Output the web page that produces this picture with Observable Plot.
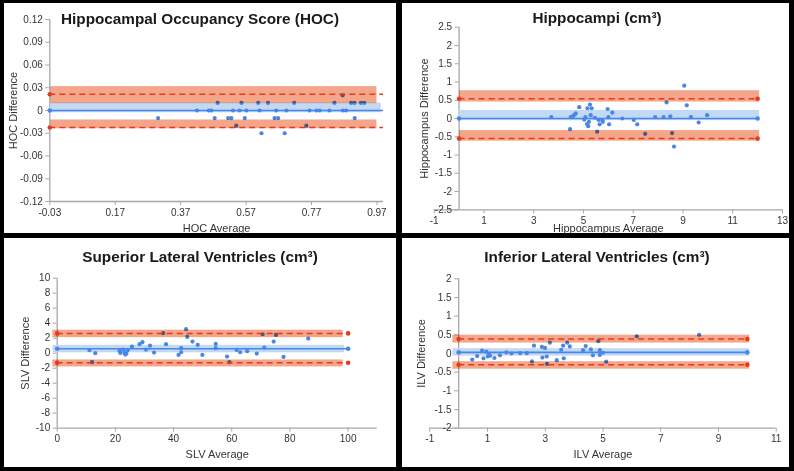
<!DOCTYPE html>
<html><head><meta charset="utf-8">
<script src="https://cdn.jsdelivr.net/npm/d3@7"></script>
<script src="https://cdn.jsdelivr.net/npm/@observablehq/plot@0.6"></script>
<style>
body{margin:0;background:#000;}
#wrap{position:relative;width:794px;height:471px;background:#000;overflow:hidden;}
.panel{position:absolute;background:#fff;overflow:hidden;}
.panel svg{position:absolute;left:0;top:0;}
.title{position:absolute;width:400px;text-align:center;font:bold 15.3px "Liberation Sans",Arial,sans-serif;color:#1a1a1a;white-space:nowrap;line-height:1;}
</style></head><body><div id="wrap"></div>
<script>
// ---------- Data ----------
// Hippocampal Occupancy Score (HOC)
const hocAvg  = [0.483,0.556,0.607,0.637,0.717,0.840,0.891,0.901,0.921,0.931,
                 0.420,0.456,0.464,0.530,0.550,0.571,0.611,0.662,0.693,0.764,0.785,0.795,0.825,0.866,0.876,
                 0.301,0.474,0.515,0.525,0.566,0.657,0.668,0.902,
                 0.540,0.754,0.617,0.688,0.865];
const hocDiff = [0.01,0.01,0.01,0.01,0.01,0.01,0.01,0.01,0.01,0.01,
                 0,0,0,0,0,0,0,0,0,0,0,0,0,0,0,
                 -0.01,-0.01,-0.01,-0.01,-0.01,-0.01,-0.01,-0.01,
                 -0.02,-0.02,-0.03,-0.03,0.02];
const hocStats = {mean: 0, upper: 0.0215, lower: -0.0225};
const hocBands = {upper: [0.009, 0.0315], lower: [-0.024, -0.0125], mean: [-0.003, 0.0097]};
const hocXTicks = [-0.03, 0.17, 0.37, 0.57, 0.77, 0.97];
const hocYTicks = [-0.12, -0.09, -0.06, -0.03, 0, 0.03, 0.06, 0.09, 0.12];

// Hippocampi (cm3)
const hippAvg  = [3.71,4.46,4.49,4.59,4.65,4.69,4.83,5.03,5.08,5.14,5.16,5.19,5.22,5.26,5.29,5.33,5.46,5.55,5.61,5.65,
                  5.76,5.78,5.97,6.00,6.03,6.16,6.56,7.02,7.16,7.48,7.88,8.22,8.34,8.49,8.56,8.64,9.05,9.15,9.32,9.63,9.97];
const hippDiff = [0.04,-0.29,0.04,0.07,0.11,0.14,0.31,-0.03,0.04,-0.15,0.28,-0.21,-0.09,0.38,0.09,0.28,0.02,-0.36,-0.04,-0.16,
                  -0.05,-0.09,0.26,0.04,-0.16,0.16,0.0,-0.04,-0.16,-0.42,0.04,0.04,0.44,0.06,-0.40,-0.77,0.90,0.36,0.04,-0.11,0.09];
const hippStats = {mean: 0, upper: 0.54, lower: -0.55};
const hippBands = {upper: [0.45, 0.76], lower: [-0.62, -0.33], mean: [-0.06, 0.22]};
const hippXTicks = [-1, 1, 3, 5, 7, 9, 11, 13];
const hippYTicks = [-2.5, -2, -1.5, -1, -0.5, 0, 0.5, 1, 1.5, 2, 2.5];

// Superior Lateral Ventricles (cm3)
const slvAvg  = [11.1,12.0,13.1,21.4,21.7,22.6,23.1,23.4,23.8,24.2,25.7,28.3,29.3,30.5,31.9,33.3,36.4,37.4,41.7,42.6,
                 42.6,44.3,44.7,46.5,48.3,49.9,54.5,54.5,58.4,59.2,61.7,62.9,65.3,68.6,70.6,71.2,74.4,75.2,77.8,86.3];
const slvDiff = [0.40,-1.2,0.0,0.31,0.04,0.48,0.04,-0.18,-0.05,0.40,0.88,1.2,1.47,0.48,1.01,0.08,2.67,1.2,-0.23,0.67,
                 0.13,3.2,2.17,1.55,1.1,-0.23,1.24,0.67,-0.45,-1.2,0.44,0.13,0.27,-0.05,2.53,0.75,1.55,2.44,-0.49,1.95];
const slvStats = {mean: 0.6, upper: 2.64, lower: -1.27};
const slvBands = {upper: [2.08, 3.07], lower: [-1.83, -0.9], mean: [0.05, 1.05]};
const slvXTicks = [0, 20, 40, 60, 80, 100];
const slvYTicks = [-10, -8, -6, -4, -2, 0, 2, 4, 6, 8, 10];

// Inferior Lateral Ventricles (cm3)
const ilvAvg  = [0.47,0.64,0.81,0.86,0.96,1.01,1.05,1.09,1.24,1.43,1.65,1.83,2.13,2.36,2.54,2.61,2.88,2.90,2.99,3.05,
                 3.06,3.16,3.40,3.55,3.62,3.64,3.76,3.85,4.31,4.40,4.58,4.65,4.84,4.89,4.89,5.00,5.11,6.17,8.33];
const ilvDiff = [-0.16,-0.07,0.08,-0.13,0.05,-0.08,-0.03,-0.06,-0.12,-0.05,0.03,0.0,0.01,0.01,-0.21,0.21,0.18,-0.11,0.15,-0.08,
                 -0.28,0.29,-0.18,0.10,0.21,-0.13,0.29,0.19,0.09,0.20,0.11,-0.05,0.33,0.09,-0.04,0.02,-0.22,0.46,0.50];
const ilvStats = {mean: 0.03, upper: 0.39, lower: -0.30};
const ilvBands = {upper: [0.28, 0.49], lower: [-0.42, -0.22], mean: [-0.07, 0.13]};
const ilvXTicks = [-1, 1, 3, 5, 7, 9, 11];
const ilvYTicks = [-2, -1.5, -1, -0.5, 0, 0.5, 1, 1.5, 2];

// ---------- Drawing ----------
const FONT = "'Liberation Sans', Arial, Helvetica, sans-serif";
const AXIS = "#a3a9a9";
const BLUE = "#4a86e8";
const RED = "#e63a1f";

function panel(o) {
  const pts = o.avg.map((x, i) => ({x, y: o.diff[i]}));
  const redBands = [
    {x1: o.bandX[0], x2: o.bandX[1], y1: o.bands.upper[0], y2: o.bands.upper[1]},
    {x1: o.bandX[0], x2: o.bandX[1], y1: o.bands.lower[0], y2: o.bands.lower[1]}
  ];
  const blueBand = [{x1: o.blueX[0], x2: o.blueX[1], y1: o.bands.mean[0], y2: o.bands.mean[1]}];
  const dashed = [
    {x1: o.lineX[0], x2: o.lineX[1], y: o.stats.upper},
    {x1: o.lineX[0], x2: o.lineX[1], y: o.stats.lower}
  ];
  const meanLine = [{x1: o.lineX[0], x2: o.lineX[1], y: o.stats.mean}];
  const redMarks = o.markX.flatMap(x => [{x, y: o.stats.upper}, {x, y: o.stats.lower}]);
  const blueMarks = o.markX.map(x => ({x, y: o.stats.mean}));
  const y0 = o.yDomain[0];
  const ax = o.yAxisX;

  const svg = Plot.plot({
    width: o.w, height: o.h,
    marginLeft: o.m[0], marginRight: o.m[1], marginTop: o.m[2], marginBottom: o.m[3],
    style: {fontFamily: FONT, fontSize: "10px", background: "transparent", overflow: "visible"},
    x: {domain: o.xDomain, axis: null},
    y: {domain: o.yDomain, axis: null},
    marks: [
      // axes
      Plot.ruleY([y0], {stroke: AXIS, strokeWidth: 1.3}),
      Plot.ruleX([ax], {stroke: AXIS, strokeWidth: 1.3}),
      Plot.ruleY(o.yTicks, {y: d => d, x1: () => ax, x2: () => ax, insetLeft: -4, stroke: AXIS}),
      Plot.ruleX(o.xTicks, {x: d => d, y1: () => y0, y2: () => y0, insetTop: 4, stroke: AXIS}),
      Plot.text(o.yTicks, {x: () => ax, y: d => d, text: o.yFmt, dx: -7, textAnchor: "end", fill: "#333", fontSize: 10}),
      Plot.text(o.xTicks, {x: d => d, y: () => y0, text: o.xFmt, dy: 11, fill: "#333", fontSize: 10}),
      Plot.text([o.xLabel], {frameAnchor: "bottom", dy: o.xLabelDy, textAnchor: "middle", lineAnchor: "middle", fill: "#333", fontSize: 11}),
      Plot.text([o.yLabel], {frameAnchor: "left", dx: o.yLabelDx, rotate: -90, textAnchor: "middle", lineAnchor: "middle", fill: "#333", fontSize: 11}),
      // mean band and line
      Plot.rect(blueBand, {x1: "x1", x2: "x2", y1: "y1", y2: "y2", fill: "#c2d9f4"}),
      Plot.ruleY(meanLine, {y: "y", x1: "x1", x2: "x2", stroke: BLUE, strokeWidth: 1.6}),
      // points
      Plot.dot(pts, {x: "x", y: "y", r: 2.1, fill: BLUE}),
      // limits of agreement bands
      Plot.rect(redBands, {x1: "x1", x2: "x2", y1: "y1", y2: "y2", fill: "#f4a68a", mixBlendMode: "multiply"}),
      Plot.ruleY(dashed, {y: "y", x1: "x1", x2: "x2", stroke: RED, strokeWidth: 1.5, strokeDasharray: "6,4"}),
      Plot.dot(redMarks, {x: "x", y: "y", r: 2.3, fill: RED}),
      Plot.dot(blueMarks, {x: "x", y: "y", r: 2.3, fill: BLUE})
    ]
  });

  const div = document.createElement("div");
  div.className = "panel";
  Object.assign(div.style, {left: o.left + "px", top: o.top + "px", width: o.w + "px", height: o.h + "px"});
  div.appendChild(svg);
  const t = document.createElement("div");
  t.className = "title";
  t.textContent = o.title;
  Object.assign(t.style, {left: (o.titleCx - 200) + "px", top: (o.titleBase - 12.95) + "px"});
  div.appendChild(t);
  document.getElementById("wrap").appendChild(div);
}

panel({
  left: 4, top: 3, w: 392, h: 230, m: [45.3, 13, 16, 32],
  xDomain: [-0.03, 0.99], yDomain: [-0.12, 0.12], yAxisX: -0.03,
  xTicks: hocXTicks, yTicks: hocYTicks,
  xFmt: d => d.toFixed(2), yFmt: d => d === 0 ? "0" : d.toFixed(2),
  avg: hocAvg, diff: hocDiff, stats: hocStats, bands: hocBands,
  bandX: [-0.027, 0.97], blueX: [-0.027, 0.983], lineX: [-0.03, 0.99], markX: [-0.03],
  xLabel: "HOC Average", yLabel: "HOC Difference", xLabelDy: 27, yLabelDx: -36.3,
  title: "Hippocampal Occupancy Score (HOC)", titleCx: 196, titleBase: 21
});

panel({
  left: 402, top: 3, w: 387, h: 230, m: [31.7, 7, 23.7, 23.7],
  xDomain: [-1, 13], yDomain: [-2.5, 2.5], yAxisX: 0,
  xTicks: hippXTicks, yTicks: hippYTicks,
  xFmt: d => String(d), yFmt: d => String(d),
  avg: hippAvg, diff: hippDiff, stats: hippStats, bands: hippBands,
  bandX: [0.02, 12.08], blueX: [0.02, 12.08], lineX: [0, 12], markX: [0, 12],
  xLabel: "Hippocampus Average", yLabel: "Hippocampus Difference", xLabelDy: 18.4, yLabelDx: -9.4,
  title: "Hippocampi (cm³)", titleCx: 195, titleBase: 19.7
});

panel({
  left: 4, top: 238, w: 392, h: 229, m: [52.7, 19.3, 39.7, 39.3],
  xDomain: [0, 110], yDomain: [-10, 10], yAxisX: 0,
  xTicks: slvXTicks, yTicks: slvYTicks,
  xFmt: d => String(d), yFmt: d => String(d),
  avg: slvAvg, diff: slvDiff, stats: slvStats, bands: slvBands,
  bandX: [-1.5, 98.3], blueX: [-1.4, 98.8], lineX: [0, 100], markX: [0, 100],
  xLabel: "SLV Average", yLabel: "SLV Difference", xLabelDy: 26.6, yLabelDx: -31.7,
  title: "Superior Lateral Ventricles (cm³)", titleCx: 196, titleBase: 23.7
});

panel({
  left: 402, top: 238, w: 387, h: 229, m: [27.3, 13.3, 40.3, 39.3],
  xDomain: [-1, 11], yDomain: [-2, 2], yAxisX: 0,
  xTicks: ilvXTicks, yTicks: ilvYTicks,
  xFmt: d => String(d), yFmt: d => String(d),
  avg: ilvAvg, diff: ilvDiff, stats: ilvStats, bands: ilvBands,
  bandX: [-0.2, 10.08], blueX: [-0.2, 10.08], lineX: [0, 10], markX: [0, 10],
  xLabel: "ILV Average", yLabel: "ILV Difference", xLabelDy: 26.6, yLabelDx: -8.3,
  title: "Inferior Lateral Ventricles (cm³)", titleCx: 195, titleBase: 23.7
});
</script></body></html>
